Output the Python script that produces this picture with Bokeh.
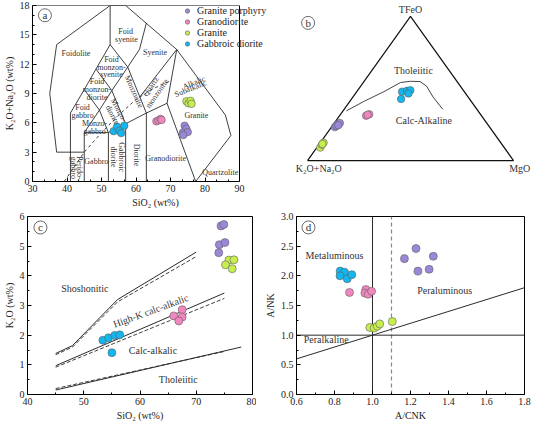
import math
from bokeh.plotting import figure
from bokeh.models import Range1d, Label, Legend, LegendItem, FixedTicker, PrintfTickFormatter
from bokeh.layouts import row, column
from bokeh.embed import file_html
from bokeh.resources import INLINE

FONT = "Liberation Serif"
LINE = "#2a2a2a"
TXT = "#333333"

series_names = ["Granite porphyry", "Granodiorite", "Granite", "Gabbroic diorite"]
series_colors = ["#9B87D8", "#F286C0", "#C6EE4E", "#14B6EE"]

# ---------------- Panel a : TAS ----------------
a_gp_sio2 = [74.1, 74.6, 73.6, 75.0, 73.7]
a_gp_alk = [5.70, 5.40, 5.00, 5.05, 4.75]
a_gd_sio2 = [65.9, 66.5, 67.1, 67.4]
a_gd_alk = [6.15, 6.25, 6.40, 6.30]
a_gr_sio2 = [74.6, 75.2, 75.8, 76.1]
a_gr_alk = [8.20, 8.00, 8.25, 7.95]
a_gb_sio2 = [53.5, 54.5, 55.2, 55.7, 56.6]
a_gb_alk = [5.15, 5.60, 5.20, 4.95, 5.70]

tas_lines_x = [
    [37, 35, 37, 52.5, 57, 71.8, 85.9, 87.5, 77.3],
    [37, 45],
    [41, 41],
    [45, 45],
    [52, 52],
    [57, 57],
    [63, 63],
    [45, 52, 57, 63, 69, 71.8],
    [69, 77.3],
    [41, 45, 48.4, 52.5, 52.5],
    [45, 49.4, 53, 57.6, 61, 63],
    [45, 49.4, 52],
    [48.4, 53, 57],
    [52.5, 57.6, 63],
    [61, 71.8],
]
tas_lines_y = [
    [3, 9, 14, 18, 18, 13.5, 6.8, 4.7, 0],
    [3, 3],
    [0, 7],
    [0, 5],
    [0, 5],
    [0, 5.9],
    [0, 7],
    [5, 5, 5.9, 7, 8, 13.5],
    [8, 0],
    [7, 9.4, 11.5, 14, 18],
    [5, 7.3, 9.3, 11.7, 13.5, 16.2],
    [9.4, 7.3, 5],
    [11.5, 9.3, 5.9],
    [14, 11.7, 7],
    [8.6, 13.5],
]
alk_div_x = [39.2, 45, 50, 55, 60, 65, 70]
alk_div_y = [0, 3.0, 5.0, 6.8, 8.4, 9.5, 10.3]

a_field_text = ["Foidolite", "Foid", "syenite", "Syenite", "Foid", "monzon-", "syenite",
                "Foid", "monzon-", "diorite", "Foid", "gabbro", "Monzo-", "gabbro",
                "Monzo-", "diorite", "Monzonite", "Quartz", "monzonite", "Alkalic", "Subalkalic",
                "Granite", "Granodiorite", "Diorite", "Gabbroic", "diorite", "Gabbro",
                "Perido-", "gabbro", "Quartzolite"]
a_field_x = [42.6, 57.0, 57.2, 65.5, 52.9, 52.9, 52.9,
             48.7, 48.7, 48.7, 44.5, 44.5, 48.0, 48.0,
             55.0, 53.2, 59.4, 64.3, 66.1, 76.8, 75.8,
             77.5, 68.6, 60.0, 55.7, 53.5, 48.5,
             43.5, 42.0, 84.4]
a_field_y = [13.1, 15.3, 14.5, 13.2, 12.5, 11.7, 10.9,
             10.2, 9.4, 8.6, 7.6, 6.8, 5.9, 5.1,
             7.3, 6.8, 9.2, 9.7, 9.0, 10.1, 9.5,
             6.7, 2.35, 2.7, 2.5, 2.5, 2.0,
             1.4, 1.4, 0.95]
a_field_angle = [0, 0, 0, 0, 0, 0, 0,
                 0, 0, 0, 0, 0, 0, 0,
                 -62, -62, -66, 55, 55, 22, 22,
                 0, 0, -90, -90, -90, 0,
                 -90, -90, 0]

# ---------------- Panel b : AFM ternary (TFeO, K2O+Na2O, MgO) ----------------
b_gp_F = [23.2, 25.1, 26.0, 24.1, 24.5]
b_gp_A = [75.1, 72.9, 71.3, 73.9, 72.8]
b_gp_M = [1.7, 2.0, 2.7, 2.0, 2.7]
b_gd_F = [31.1, 32.1, 31.7]
b_gd_A = [56.0, 54.0, 55.0]
b_gd_M = [12.9, 13.9, 13.3]
b_gr_F = [9.0, 10.9, 12.4, 11.5]
b_gr_A = [89.3, 87.6, 86.0, 87.0]
b_gr_M = [1.7, 1.5, 1.6, 1.5]
b_gb_F = [47.8, 48.4, 48.8, 46.5, 42.7]
b_gb_A = [30.2, 27.5, 25.7, 27.8, 33.2]
b_gb_M = [22.0, 24.1, 25.5, 25.7, 24.1]
ib_F = [34.5, 41.2, 47.8, 54.1, 55.0, 54.8, 51.6, 44.0, 35.5]
ib_A = [63.85, 51.8, 39.0, 27.85, 22.6, 18.0, 16.4, 17.0, 16.55]
ib_M = [1.65, 7.0, 13.2, 18.05, 22.4, 27.2, 32.0, 39.0, 47.95]

# ---------------- Panel c : SiO2 vs K2O ----------------
c_gp_sio2 = [74.4, 74.9, 74.1, 75.1, 74.0]
c_gp_k2o = [5.68, 5.73, 5.05, 5.12, 4.78]
c_gd_sio2 = [66.0, 67.5, 67.5, 66.9]
c_gd_k2o = [2.65, 2.86, 2.61, 2.48]
c_gr_sio2 = [75.8, 75.2, 76.7, 76.4]
c_gr_k2o = [4.53, 4.37, 4.54, 4.24]
c_gb_sio2 = [53.4, 54.4, 55.5, 56.4, 55.0]
c_gb_k2o = [1.83, 1.91, 1.99, 2.01, 1.41]

c_sho_x = [45, 48, 56, 70]
c_sho_y = [1.38, 1.65, 3.2, 4.8]
c_sho_dx = [45, 48, 56, 70]
c_sho_dy = [1.34, 1.6, 3.12, 4.65]
c_hk_x = [45, 75]
c_hk_y = [0.97, 3.42]
c_hk_dx = [45, 75]
c_hk_dy = [0.92, 3.24]
c_th_x = [45, 78]
c_th_y = [0.15, 1.6]
c_th_dx = [45, 75]
c_th_dy = [0.2, 1.45]

# ---------------- Panel d : A/CNK vs A/NK ----------------
d_gp_acnk = [1.168, 1.229, 1.239, 1.298, 1.320]
d_gp_ank = [2.29, 2.46, 2.08, 2.11, 2.33]
d_gd_acnk = [0.879, 0.965, 0.960, 0.977, 0.995]
d_gd_ank = [1.72, 1.77, 1.71, 1.69, 1.74]
d_gr_acnk = [0.986, 1.009, 1.025, 1.038, 1.104]
d_gr_ank = [1.13, 1.12, 1.15, 1.19, 1.23]
d_gb_acnk = [0.830, 0.853, 0.829, 0.867, 0.891]
d_gb_ank = [2.08, 2.06, 2.00, 1.95, 2.02]


def tern(F, A, M):
    xs, ys = [], []
    for f, a, m in zip(F, A, M):
        s = f + a + m
        xs.append((m + f / 2.0) / s)
        ys.append(f / s)
    return xs, ys


def add_label(p, text, x, y, size="10px", angle=0, align="center"):
    p.add_layout(Label(x=x, y=y, text=text, text_font=FONT, text_font_size=size,
                       text_color=TXT, text_align=align, text_baseline="middle",
                       angle=math.radians(angle)))


def circled(p, letter, x, y):
    p.scatter([x], [y], marker="circle", size=13, fill_color="white",
              line_color="#444444", line_width=0.8)
    add_label(p, letter, x, y, size="11px")


def style(p, xt, xminor, yt, yminor, xfmt=None, yfmt=None):
    p.grid.visible = False
    p.outline_line_color = "black"
    p.outline_line_width = 1
    p.background_fill_color = "white"
    p.border_fill_color = "white"
    p.xaxis.ticker = FixedTicker(ticks=xt, minor_ticks=xminor)
    p.yaxis.ticker = FixedTicker(ticks=yt, minor_ticks=yminor)
    if xfmt:
        p.xaxis.formatter = PrintfTickFormatter(format=xfmt)
    if yfmt:
        p.yaxis.formatter = PrintfTickFormatter(format=yfmt)
    for ax in (p.xaxis[0], p.yaxis[0]):
        ax.major_label_text_font = FONT
        ax.major_label_text_font_size = "10px"
        ax.major_label_text_color = "#222222"
        ax.axis_label_text_font = FONT
        ax.axis_label_text_font_size = "10px"
        ax.axis_label_text_font_style = "normal"
        ax.axis_label_text_color = "#222222"
        ax.major_tick_in = 4
        ax.major_tick_out = 0
        ax.minor_tick_in = 2
        ax.minor_tick_out = 0
        ax.major_label_standoff = 3
        ax.axis_label_standoff = 2
        ax.axis_line_color = "black"
        ax.major_tick_line_color = "black"
        ax.minor_tick_line_color = "black"


def pts(p, xs, ys, color, size=8):
    return p.scatter(xs, ys, marker="circle", size=size, fill_color=color,
                     line_color="#5f5f5f", line_width=0.6)


# ================= Panel a =================
# frame extended to the right (beyond SiO2 = 90) so that the legend is not clipped;
# the visible box and axis stop at 90.
pa = figure(width=282, height=210, x_range=Range1d(30, 101.3), y_range=Range1d(0, 18),
            output_backend="svg", toolbar_location=None,
            min_border_left=26, min_border_right=4, min_border_top=5, min_border_bottom=28)
style(pa, list(range(30, 91, 10)), [x + d for x in range(30, 90, 10) for d in (10 / 3, 20 / 3)],
      list(range(0, 19, 3)), [v for v in range(0, 18) if v % 3 != 0])
pa.outline_line_color = None
pa.xaxis.bounds = (30, 90)
pa.xaxis.axis_label = "SiO₂ (wt%)"
pa.yaxis.axis_label = "K₂O+Na₂O (wt%)"
pa.line([30, 90, 90], [18, 18, 0], line_color="black", line_width=1.0)
for xs, ys in zip(tas_lines_x, tas_lines_y):
    pa.line(xs, ys, line_color=LINE, line_width=0.9)
pa.line(alk_div_x, alk_div_y, line_color=LINE, line_width=0.9, line_dash="3 3")
for t, x, y, ang in zip(a_field_text, a_field_x, a_field_y, a_field_angle):
    add_label(pa, t, x, y, size="8px", angle=ang)
ra = [pts(pa, a_gp_sio2, a_gp_alk, series_colors[0], 7.5),
      pts(pa, a_gd_sio2, a_gd_alk, series_colors[1], 7.5),
      pts(pa, a_gr_sio2, a_gr_alk, series_colors[2], 7.5),
      pts(pa, a_gb_sio2, a_gb_alk, series_colors[3], 7.5)]
circled(pa, "a", 33.6, 17.0)
legend = Legend(items=[LegendItem(label=n, renderers=[r]) for n, r in zip(series_names, ra)],
                location=(149, 132), orientation="vertical",
                background_fill_alpha=0, border_line_color=None,
                label_text_font=FONT, label_text_font_size="10px", label_text_color="#222222",
                glyph_height=11, glyph_width=12, label_height=11, spacing=0,
                padding=0, margin=0, label_standoff=4)
pa.add_layout(legend)

# ================= Panel b =================
pb = figure(width=252, height=210, x_range=Range1d(-0.1214, 1.1019), y_range=Range1d(-0.1453, 1.0756),
            output_backend="svg", toolbar_location=None, x_axis_type=None, y_axis_type=None,
            min_border=0)
pb.grid.visible = False
pb.outline_line_color = None
tx, ty = tern([0, 100, 0, 0], [100, 0, 0, 100], [0, 0, 100, 0])
pb.line(tx, ty, line_color="#111111", line_width=1.2)
ix, iy = tern(ib_F, ib_A, ib_M)
pb.line(ix, iy, line_color="#444444", line_width=1.0)
for F, A, M, c in [(b_gp_F, b_gp_A, b_gp_M, series_colors[0]),
                   (b_gd_F, b_gd_A, b_gd_M, series_colors[1]),
                   (b_gr_F, b_gr_A, b_gr_M, series_colors[2]),
                   (b_gb_F, b_gb_A, b_gb_M, series_colors[3])]:
    x, y = tern(F, A, M)
    pts(pb, x, y, c, 7.5)
add_label(pb, "TFeO", 0.5, 1.047)
add_label(pb, "K₂O+Na₂O", 0.055, -0.058)
add_label(pb, "MgO", 1.03, -0.058)
add_label(pb, "Tholeiitic", 0.514, 0.624)
add_label(pb, "Calc-Alkaline", 0.565, 0.276)
circled(pb, "b", 0.003, 0.955)

# ================= Panel c =================
pc = figure(width=256, height=213, x_range=Range1d(40, 80), y_range=Range1d(0, 6),
            output_backend="svg", toolbar_location=None,
            min_border_left=24, min_border_right=4, min_border_top=6, min_border_bottom=28)
style(pc, list(range(40, 81, 10)), [45, 55, 65, 75], list(range(0, 7)), [0.5 + i for i in range(6)])
pc.xaxis.axis_label = "SiO₂ (wt%)"
pc.yaxis.axis_label = "K₂O (wt%)"
for xs, ys in [(c_sho_x, c_sho_y), (c_hk_x, c_hk_y), (c_th_x, c_th_y)]:
    pc.line(xs, ys, line_color=LINE, line_width=1.0)
for xs, ys in [(c_sho_dx, c_sho_dy), (c_hk_dx, c_hk_dy), (c_th_dx, c_th_dy)]:
    pc.line(xs, ys, line_color=LINE, line_width=0.9, line_dash="4 2")
add_label(pc, "Shoshonitic", 50.2, 3.58)
add_label(pc, "High-K calc-alkalic", 61.9, 2.82, angle=20)
add_label(pc, "Calc-alkalic", 62.3, 1.47)
add_label(pc, "Tholeiitic", 66.8, 0.52)
pts(pc, c_gp_sio2, c_gp_k2o, series_colors[0])
pts(pc, c_gd_sio2, c_gd_k2o, series_colors[1])
pts(pc, c_gr_sio2, c_gr_k2o, series_colors[2])
pts(pc, c_gb_sio2, c_gb_k2o, series_colors[3])
circled(pc, "c", 42.3, 5.63)

# ================= Panel d =================
pd_ = figure(width=278, height=213, x_range=Range1d(0.6, 1.8), y_range=Range1d(0, 3),
             output_backend="svg", toolbar_location=None,
             min_border_left=40, min_border_right=10, min_border_top=6, min_border_bottom=28)
style(pd_, [0.6, 0.8, 1.0, 1.2, 1.4, 1.6, 1.8], [0.7, 0.9, 1.1, 1.3, 1.5, 1.7],
      [0, 0.5, 1.0, 1.5, 2.0, 2.5, 3.0], [0.25, 0.75, 1.25, 1.75, 2.25, 2.75],
      xfmt="%.1f", yfmt="%.1f")
pd_.xaxis.axis_label = "A/CNK"
pd_.yaxis.axis_label = "A/NK"
pd_.line([1.0, 1.0], [0, 3], line_color=LINE, line_width=1.0)
pd_.line([1.1, 1.1], [0, 3], line_color="#888888", line_width=1.2, line_dash="4 3")
pd_.line([0.6, 1.8], [1.0, 1.0], line_color=LINE, line_width=1.0)
pd_.line([0.6, 1.8], [0.6, 1.8], line_color=LINE, line_width=1.0)
add_label(pd_, "Metaluminous", 0.80, 2.35)
add_label(pd_, "Peraluminous", 1.38, 1.75)
add_label(pd_, "Peralkaline", 0.756, 0.92)
pts(pd_, d_gp_acnk, d_gp_ank, series_colors[0])
pts(pd_, d_gd_acnk, d_gd_ank, series_colors[1])
pts(pd_, d_gr_acnk, d_gr_ank, series_colors[2])
pts(pd_, d_gb_acnk, d_gb_ank, series_colors[3])
circled(pd_, "d", 0.663, 2.816)

layout = column(row(pa, pb), row(pc, pd_))
open("out.html", "w").write(file_html(layout, INLINE))
